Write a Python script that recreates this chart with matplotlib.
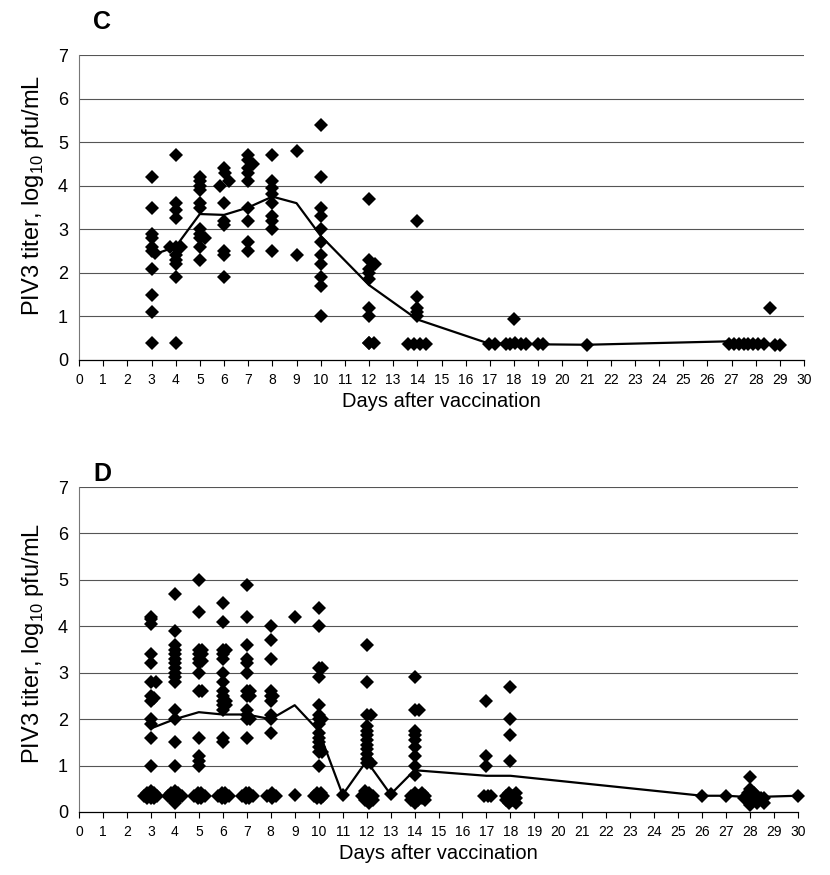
import numpy as np
import matplotlib
matplotlib.use("Agg")
import matplotlib.pyplot as plt

plt.rcParams['font.family'] = ['Liberation Sans', 'DejaVu Sans']

# ---- panel C: individual titers (day, log10 titer) ----
c_days = [3, 3, 3, 3, 3, 3, 3.15, 3, 3, 3, 3,
          4, 4, 4, 4, 3.75, 4, 4.2, 4, 4, 4, 4, 4,
          5, 5, 5, 5, 5, 5, 5, 5, 5, 5.2, 5, 5,
          6, 6.05, 6.2, 5.85, 6, 6, 6, 6, 6, 6,
          7, 7, 7.2, 7, 7, 7, 7, 7, 7, 7,
          8, 8, 8, 8, 8, 8, 8, 8, 8,
          9, 9,
          10, 10, 10, 10, 10, 10, 10, 10, 10, 10, 10,
          12, 12, 12.25, 12, 12, 12, 12, 12, 12, 12, 12.2,
          14, 14, 14, 14, 14, 13.6, 13.85, 14.1, 14.35,
          16.95, 17.2, 17.65, 17.85, 18.05, 18.3, 18.5, 19.0, 19.2, 18,
          21,
          26.9, 27.1, 27.3, 27.5, 27.7, 27.9, 28.1, 28.35, 28.6, 28.8, 29.0]
c_titer = [4.2, 3.5, 2.9, 2.8, 2.6, 2.5, 2.45, 2.1, 1.5, 1.1, 0.4,
           4.7, 3.6, 3.45, 3.25, 2.6, 2.6, 2.6, 2.4, 2.3, 2.2, 1.9, 0.4,
           4.2, 4.1, 4.0, 3.9, 3.6, 3.5, 3.0, 2.9, 2.8, 2.8, 2.6, 2.3,
           4.4, 4.3, 4.1, 4.0, 3.6, 3.2, 3.1, 2.5, 2.4, 1.9,
           4.7, 4.6, 4.5, 4.4, 4.3, 4.1, 3.5, 3.2, 2.7, 2.5,
           4.7, 4.1, 3.95, 3.8, 3.6, 3.3, 3.2, 3.0, 2.5,
           4.8, 2.4,
           5.4, 4.2, 3.5, 3.3, 3.0, 2.7, 2.4, 2.2, 1.9, 1.7, 1.0,
           3.7, 2.3, 2.2, 2.1, 2.0, 1.85, 1.2, 1.0, 0.4, 0.4, 0.4,
           3.2, 1.45, 1.2, 1.1, 1.0, 0.37, 0.37, 0.37, 0.37,
           0.37, 0.37, 0.37, 0.37, 0.4, 0.37, 0.37, 0.37, 0.37, 0.95,
           0.35,
           0.37, 0.37, 0.37, 0.37, 0.37, 0.37, 0.37, 0.37, 1.2, 0.35, 0.35]
# panel C mean line
c_mean_days = [3, 4, 5, 6, 7, 8, 9, 10, 12, 14, 17, 18, 19, 21, 27, 28, 29]
c_mean = [2.4, 2.6, 3.35, 3.33, 3.5, 3.75, 3.6, 2.85, 1.72, 0.93,
          0.37, 0.39, 0.36, 0.35, 0.43, 0.38, 0.36]

# ---- panel D ----
d_days = [
    # day 3
    3, 3, 3, 3, 3, 3, 3.2, 3, 3.15, 3, 3, 3, 3, 3,
    2.7, 2.85, 2.85, 3, 3, 3, 3.15, 3.15, 3.25,
    # day 4
    4, 4, 4, 4, 4, 4, 4, 4, 4, 4, 4, 4, 4, 4, 4,
    3.7, 3.85, 3.85, 4, 4, 4, 4, 4.15, 4.15, 4.3,
    # day 5
    5, 5, 5, 5.15, 5, 5.15, 5, 5.15, 5, 5, 5, 5.15, 5, 5, 5, 5,
    4.8, 4.95, 4.95, 5.1, 5.1, 5.25,
    # day 6
    6, 6, 6, 6.15, 6, 6, 6, 6, 6, 6, 6, 6.15, 6, 6.15, 6, 6, 6,
    5.8, 5.95, 5.95, 6.1, 6.1, 6.25,
    # day 7
    7, 7, 7, 7, 7, 7, 7, 7.15, 7, 7.15, 7, 7, 7, 7.15, 7,
    6.8, 6.95, 6.95, 7.1, 7.1, 7.25,
    # day 8
    8, 8, 8, 8, 8, 8.1, 8, 8, 8, 8,
    7.85, 8.05, 8.05, 8.2,
    # day 9
    9, 9,
    # day 10
    10, 10, 10, 10.15, 10, 10, 10, 10, 10.15, 10, 10, 10, 10, 10, 10, 10.15, 10,
    9.8, 9.95, 9.95, 10.1, 10.1, 10.2,
    # day 11
    11,
    # day 12
    12, 12, 12, 12.2, 12, 12, 12, 12, 12, 12, 12, 12, 12, 12.2,
    11.8, 11.95, 11.95, 12.1, 12.1, 12.1, 12.25, 12.25,
    # day 13
    13,
    # day 14
    14, 14, 14.2, 14, 14, 14, 14, 14, 14, 14,
    13.85, 13.85, 14, 14, 14, 14.15, 14.15, 14.3, 14.3, 14.45, 14.45,
    # day 17
    17, 17, 17, 16.9, 17.05, 17.2,
    # day 18
    18, 18, 18, 18,
    17.8, 17.8, 17.95, 17.95, 17.95, 18.1, 18.1, 18.25, 18.25, 18.25,
    # day 26-30
    26, 27,
    27.75, 27.9, 27.9, 28, 28, 28, 28, 28.15, 28.15, 28.3, 28.3, 28.45, 28.6, 28.6, 28,
    30]
d_titer = [
    4.2, 4.15, 4.05, 3.4, 3.2, 2.8, 2.8, 2.5, 2.45, 2.4, 2.0, 1.9, 1.6, 1.0,
    0.35, 0.4, 0.3, 0.45, 0.35, 0.3, 0.4, 0.3, 0.35,
    4.7, 3.9, 3.6, 3.5, 3.4, 3.3, 3.2, 3.1, 3.0, 2.9, 2.8, 2.2, 2.0, 1.5, 1.0,
    0.35, 0.4, 0.3, 0.45, 0.35, 0.25, 0.2, 0.4, 0.3, 0.35,
    5.0, 4.3, 3.5, 3.5, 3.4, 3.4, 3.3, 3.25, 3.2, 3.0, 2.6, 2.6, 1.6, 1.2, 1.1, 1.0,
    0.35, 0.4, 0.3, 0.4, 0.3, 0.35,
    4.5, 4.1, 3.5, 3.5, 3.4, 3.3, 3.0, 2.8, 2.6, 2.5, 2.4, 2.4, 2.3, 2.3, 2.2, 1.6, 1.5,
    0.35, 0.4, 0.3, 0.4, 0.3, 0.35,
    4.9, 4.2, 3.6, 3.3, 3.2, 3.0, 2.6, 2.6, 2.5, 2.5, 2.2, 2.1, 2.0, 2.0, 1.6,
    0.35, 0.4, 0.3, 0.4, 0.3, 0.35,
    4.0, 3.7, 3.3, 2.6, 2.5, 2.5, 2.4, 2.1, 2.0, 1.7,
    0.35, 0.4, 0.3, 0.35,
    4.2, 0.37,
    4.4, 4.0, 3.1, 3.1, 2.9, 2.3, 2.1, 2.0, 2.0, 1.9, 1.7, 1.6, 1.5, 1.4, 1.3, 1.3, 1.0,
    0.35, 0.4, 0.3, 0.4, 0.3, 0.35,
    0.37,
    3.6, 2.8, 2.1, 2.1, 1.85, 1.75, 1.65, 1.55, 1.45, 1.35, 1.25, 1.15, 1.05, 1.05,
    0.35, 0.45, 0.25, 0.4, 0.3, 0.2, 0.35, 0.25,
    0.38,
    2.9, 2.2, 2.2, 1.75, 1.65, 1.55, 1.4, 1.2, 1.0, 0.8,
    0.35, 0.25, 0.4, 0.3, 0.2, 0.35, 0.25, 0.4, 0.3, 0.35, 0.25,
    2.4, 1.2, 1.0, 0.35, 0.35, 0.35,
    2.7, 2.0, 1.65, 1.1,
    0.35, 0.25, 0.4, 0.3, 0.2, 0.35, 0.25, 0.4, 0.3, 0.2,
    0.35, 0.35,
    0.3, 0.4, 0.25, 0.5, 0.35, 0.2, 0.15, 0.4, 0.25, 0.35, 0.2, 0.3, 0.3, 0.2, 0.75,
    0.35]
d_mean_days = [3, 4, 5, 6, 7, 8, 9, 10, 11, 12, 13, 14, 17, 18, 26, 27, 28, 30]
d_mean = [1.8, 2.0, 2.15, 2.1, 2.1, 2.0, 2.3, 1.75, 0.37, 1.1, 0.38, 0.9,
          0.78, 0.78, 0.35, 0.35, 0.32, 0.35]

day_ticks = list(range(0, 31))
titer_ticks = list(range(0, 8))
ylab = 'PIV3 titer, log$_{\\mathregular{10}}$ pfu/mL'

fig = plt.figure(figsize=(8.3, 8.75), dpi=100)
W, H = 830.0, 875.0


def panel(rect, letter, letter_y, xs, ys, mx, my, ylab_y):
    left, right, top, bottom = rect
    ax = fig.add_axes([left / W, 1 - bottom / H, (right - left) / W, (bottom - top) / H])
    ax.set_xlim(0, 30)
    ax.set_ylim(0, 7)
    for v in titer_ticks[1:]:
        ax.axhline(v, color='#555555', lw=0.8, zorder=1)
    ax.plot(mx, my, color='black', lw=1.6, zorder=2, clip_on=False)
    ax.plot(xs, ys, 'D', color='black', ms=7, zorder=3, clip_on=False, markeredgewidth=0)
    for s in ['top', 'right']:
        ax.spines[s].set_visible(False)
    ax.spines['left'].set_color('#777777')
    ax.spines['left'].set_linewidth(0.8)
    ax.spines['bottom'].set_linewidth(0.9)
    ax.set_xticks(day_ticks)
    ax.set_xticklabels([str(d) for d in day_ticks], fontsize=10)
    ax.set_yticks(titer_ticks)
    ax.set_yticklabels([str(t) for t in titer_ticks], fontsize=13)
    ax.tick_params(axis='x', direction='out', length=4, width=0.8, pad=5)
    ax.tick_params(axis='y', length=0, pad=8)
    ax.set_xlabel('Days after vaccination', fontsize=14.5, labelpad=4)
    ax.set_ylabel(ylab, fontsize=17)
    ax.yaxis.set_label_coords(-0.046, ylab_y)
    fig.text(102 / W, 1 - letter_y / H, letter, fontsize=18,
             fontweight='bold', ha='center', va='center')
    return ax


panel((79, 804, 55, 360), 'C', 22, c_days, c_titer, c_mean_days, c_mean, 0.54)
panel((79, 798, 487, 812), 'D', 474, d_days, d_titer, d_mean_days, d_mean, 0.52)

fig.savefig('out.png', dpi=100, facecolor='white')
